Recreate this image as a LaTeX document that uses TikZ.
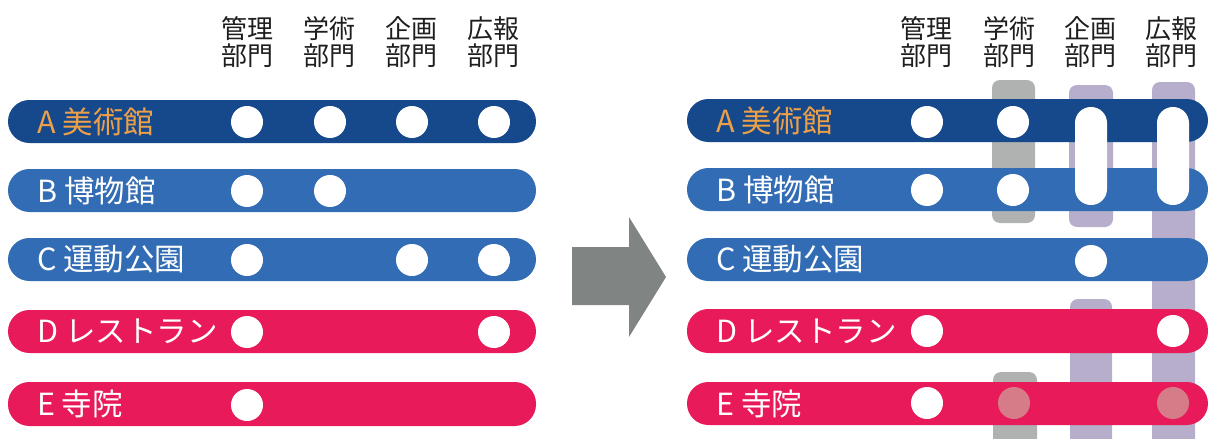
\documentclass[tikz,border=0pt]{standalone}
\usepackage{fontspec}
\newfontfamily\jp{Noto Sans CJK JP}
\definecolor{darkblue}{RGB}{22,72,140}
\definecolor{midblue}{RGB}{50,108,180}
\definecolor{pinkbar}{RGB}{232,26,90}
\definecolor{orangetxt}{RGB}{236,160,72}
\definecolor{graybar}{RGB}{176,178,178}
\definecolor{purplebar}{RGB}{182,174,202}
\definecolor{arrowc}{RGB}{128,133,132}
\definecolor{hdrc}{RGB}{30,30,30}
\definecolor{pinkdot}{RGB}{214,124,136}
\begin{document}
\begin{tikzpicture}[x=1pt,y=-1pt,
  hbar/.style={rounded corners=21.4pt},
  vbar/.style={rounded corners=8pt},
  dot/.style={circle, fill=white, minimum size=32pt, inner sep=0pt},
  pdot/.style={circle, fill=pinkdot, minimum size=32pt, inner sep=0pt},
  capsule/.style={fill=white, rounded corners=15.9pt, minimum width=32pt, minimum height=98pt, inner sep=0pt},
  hdr/.style={font=\jp\fontsize{26}{27.5}\selectfont, text=hdrc, align=center, inner sep=0pt},
  lbl/.style={font=\jp\fontsize{30.5}{31}\selectfont, text=white, anchor=west, inner sep=0pt}]
\useasboundingbox (0,0) rectangle (1208,439);
\clip (0,0) rectangle (1208,439);

% ---------------- left panel ----------------
\node[hdr] (lh1) at (247,42) {管理\\部門};
\node[hdr] (lh2) at (329,42) {学術\\部門};
\node[hdr] (lh3) at (411,42) {企画\\部門};
\node[hdr] (lh4) at (493,42) {広報\\部門};

\fill[darkblue,hbar] (8,100) rectangle (536,143);
\fill[midblue,hbar] (8,169) rectangle (536,212);
\fill[midblue,hbar] (8,238) rectangle (536,281);
\fill[pinkbar,hbar] (8,310) rectangle (536,353);
\fill[pinkbar,hbar] (8,382) rectangle (536,426);

\node[lbl,text=orangetxt] (lA) at (37,121.5) {A 美術館};
\node[lbl] (lB) at (37,190.5) {B 博物館};
\node[lbl] (lC) at (37,259.5) {C 運動公園};
\node[lbl] (lD) at (37,331.5) {D レストラン};
\node[lbl] (lE) at (37,404) {E 寺院};

\node[dot] (la1) at (247,122) {};
\node[dot] (la2) at (330,122) {};
\node[dot] (la3) at (412,122) {};
\node[dot] (la4) at (494,122) {};
\node[dot] (lb1) at (247,191) {};
\node[dot] (lb2) at (330,191) {};
\node[dot] (lc1) at (247,260) {};
\node[dot] (lc3) at (412,260) {};
\node[dot] (lc4) at (494,260) {};
\node[dot] (ld1) at (247,332) {};
\node[dot] (ld4) at (494,332) {};
\node[dot] (le1) at (247,405) {};

% ---------------- arrow ----------------
\fill[arrowc] (572,247) -- (629,247) -- (629,217) -- (666,277) -- (629,337) -- (629,305) -- (572,305) -- cycle;

% ---------------- right panel ----------------
\node[hdr] (rh1) at (926,42) {管理\\部門};
\node[hdr] (rh2) at (1009,42) {学術\\部門};
\node[hdr] (rh3) at (1090,42) {企画\\部門};
\node[hdr] (rh4) at (1171,42) {広報\\部門};

% vertical bands (behind)
\fill[graybar,vbar] (992,80) rectangle (1035,223);
\fill[graybar,vbar] (993,372) rectangle (1037,460);
\fill[purplebar,vbar] (1069,85) rectangle (1113,227);
\fill[purplebar,vbar] (1070,299) rectangle (1112,460);
\fill[purplebar,vbar] (1152,82) rectangle (1195,460);

\fill[darkblue,hbar] (687,99) rectangle (1208,142);
\fill[midblue,hbar] (687,168) rectangle (1208,211);
\fill[midblue,hbar] (687,238) rectangle (1208,281);
\fill[pinkbar,hbar] (687,309) rectangle (1208,353);
\fill[pinkbar,hbar] (687,382) rectangle (1208,425);

\node[lbl,text=orangetxt] (rA) at (716,120.5) {A 美術館};
\node[lbl] (rB) at (716,189.5) {B 博物館};
\node[lbl] (rC) at (716,259.5) {C 運動公園};
\node[lbl] (rD) at (716,331) {D レストラン};
\node[lbl] (rE) at (716,403.5) {E 寺院};

\node[dot] (ra1) at (927,122) {};
\node[dot] (ra2) at (1013,122) {};
\node[dot] (rb1) at (927,190) {};
\node[dot] (rb2) at (1013,190) {};
\node[capsule] (rab3) at (1091,156) {};
\node[capsule] (rab4) at (1173,156) {};
\node[dot] (rc3) at (1091,261) {};
\node[dot] (rd1) at (927,331) {};
\node[dot] (rd4) at (1173,331) {};
\node[dot] (re1) at (927,403) {};
\node[pdot] (re2) at (1014,403) {};
\node[pdot] (re4) at (1173,403) {};
\end{tikzpicture}
\end{document}
